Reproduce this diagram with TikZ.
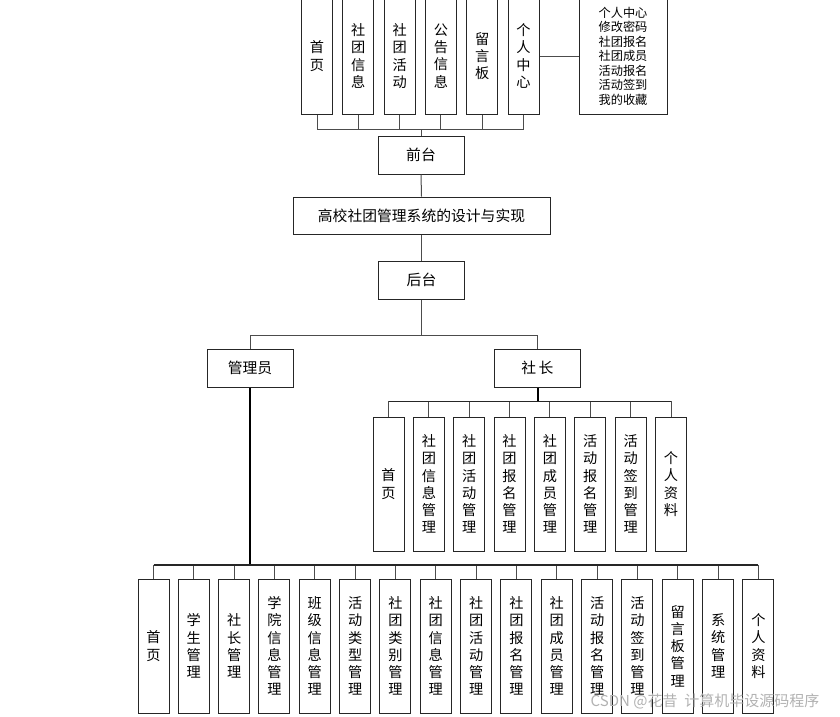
\documentclass[tikz,border=0pt]{standalone}
\usepackage{fontspec}
\newfontfamily\cjk{Noto Sans CJK SC}
\usetikzlibrary{calc}
\begin{document}
\begin{tikzpicture}[x=1pt,y=1pt,
  box/.style={draw=black!85, line width=1pt, inner sep=0pt, fill=white,
    font=\cjk\fontsize{14.2}{17.2}\selectfont, align=center},
  hbox/.style={box, minimum width=86, minimum height=38, font=\cjk\fontsize{14.8}{17.2}\selectfont},
  vbox/.style={box, minimum width=31, minimum height=134},
  conn/.style={draw=black!70, line width=1pt},
  bus/.style={draw=black!85, line width=1.4pt},
  trunk/.style={draw=black, line width=2pt}]
\useasboundingbox (0,0) rectangle (840,-716);
\clip (0,0) rectangle (840,-716);
\fill[white] (0,0) rectangle (840,-716);

% ---------- front end ----------
\node[vbox, minimum height=116] (t1) at (317,-56) {首\\页};
\node[vbox, minimum height=116] (t2) at (358.3,-56) {社\\团\\信\\息};
\node[vbox, minimum height=116] (t3) at (399.6,-56) {社\\团\\活\\动};
\node[vbox, minimum height=116] (t4) at (440.9,-56) {公\\告\\信\\息};
\node[vbox, minimum height=116] (t5) at (482.2,-56) {留\\言\\板};
\node[vbox, minimum height=116] (t6) at (523.5,-56) {个\\人\\中\\心};
\node[box, minimum width=88, minimum height=116,
  font=\cjk\fontsize{12.2}{14.5}\selectfont] (big) at (623,-56)
  {个人中心\\修改密码\\社团报名\\社团成员\\活动报名\\活动签到\\我的收藏};

\node[hbox] (qt) at (421,-155) {前台};
\node[hbox, minimum width=257, minimum height=37] (title) at (421.5,-215.5) {高校社团管理系统的设计与实现};
\node[hbox] (ht) at (421.5,-280) {后台};
\node[hbox] (gly) at (250,-368) {管理员};
\node[hbox] (sz) at (537.5,-368) {社\,长};

\coordinate (fbus) at (421,-129);
\foreach \n in {t1,t2,t3,t4,t5,t6}
  \draw[conn] (\n.south) |- (fbus);
\draw[conn] (fbus) -- (qt.north);
\draw[conn] (t6.east) -- (big.west);
\draw[conn] (qt.south) -- (title.north);
\draw[conn] (title.south) -- (ht.north);

\coordinate (hbus) at (421.5,-335);
\draw[conn] (ht.south) -- (hbus);
\draw[conn] (hbus) -| (gly.north);
\draw[conn] (hbus) -| (sz.north);

% ---------- 社长 children ----------
\foreach \t [count=\i from 0] in {首\\页,社\\团\\信\\息\\管\\理,社\\团\\活\\动\\管\\理,社\\团\\报\\名\\管\\理,社\\团\\成\\员\\管\\理,活\\动\\报\\名\\管\\理,活\\动\\签\\到\\管\\理,个\\人\\资\\料}
  \node[vbox] (s\i) at ({388.5+40.36*\i},-484) {\t};
\coordinate (sbus) at (537.5,-401.5);
\draw[trunk] (sz.south) -- (sbus);
\foreach \i in {0,...,7}
  \draw[conn] (s\i.north) |- (sbus);
\draw[bus] (s0.north |- sbus) -- (s7.north |- sbus);

% ---------- 管理员 children ----------
\foreach \t [count=\i from 0] in {首\\页,学\\生\\管\\理,社\\长\\管\\理,学\\院\\信\\息\\管\\理,班\\级\\信\\息\\管\\理,活\\动\\类\\型\\管\\理,社\\团\\类\\别\\管\\理,社\\团\\信\\息\\管\\理,社\\团\\活\\动\\管\\理,社\\团\\报\\名\\管\\理,社\\团\\成\\员\\管\\理,活\\动\\报\\名\\管\\理,活\\动\\签\\到\\管\\理,留\\言\\板\\管\\理,系\\统\\管\\理,个\\人\\资\\料}
  \node[vbox] (a\i) at ({153.5+40.33*\i},-646) {\t};
\coordinate (abus) at (250,-565);
\draw[trunk] (gly.south) -- (abus);
\foreach \i in {0,...,15}
  \draw[conn] (a\i.north) |- (abus);
\draw[bus] (a0.north |- abus) -- (a15.north |- abus);

% watermark
\node[text=black!30, font=\cjk\fontsize{15}{18}\selectfont, inner sep=0pt] (wm) at (705,-701) {CSDN @花昔\ \ 计算机毕设源码程序};
\end{tikzpicture}
\end{document}
